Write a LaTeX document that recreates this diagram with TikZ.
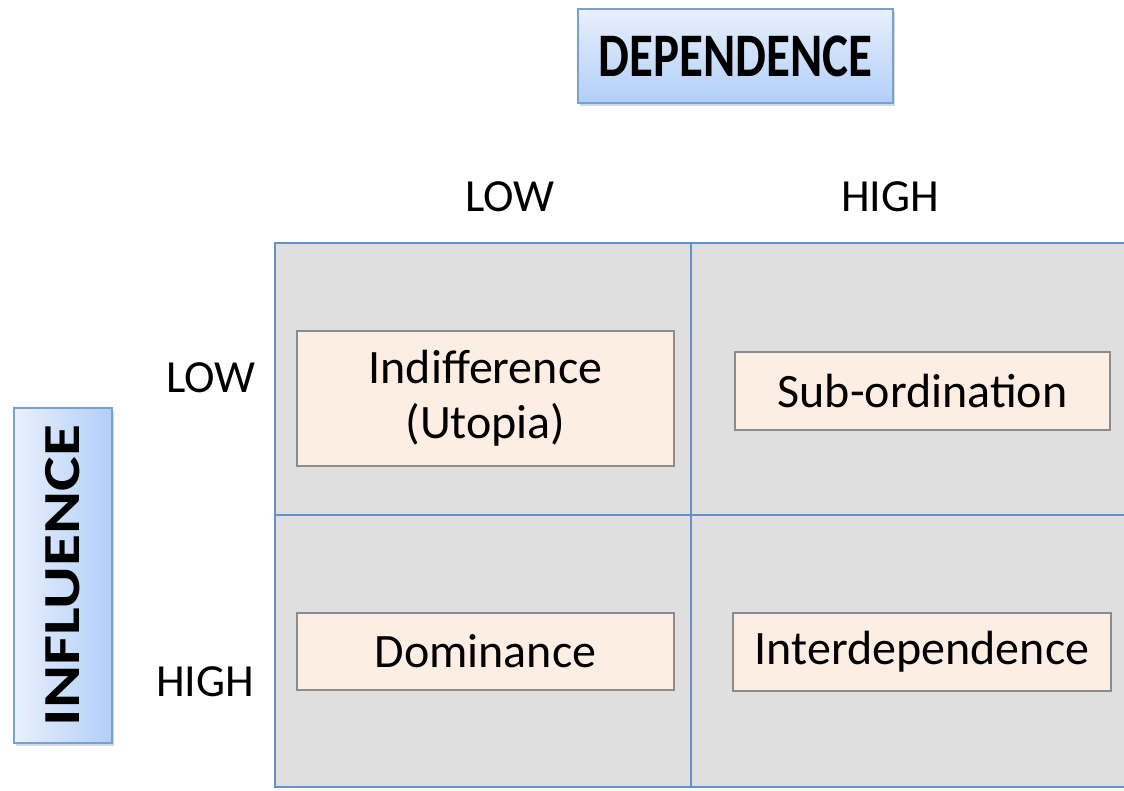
\documentclass[tikz,border=0pt]{standalone}
\usepackage{fontspec}
\setmainfont{Carlito}
\usetikzlibrary{shadows}
\definecolor{cellfill}{RGB}{223,223,223}
\definecolor{cellline}{RGB}{98,146,203}
\definecolor{tagfill}{RGB}{253,238,228}
\definecolor{tagline}{RGB}{140,140,140}
\definecolor{headlight}{RGB}{232,240,253}
\definecolor{headdark}{RGB}{178,206,248}
\definecolor{headline}{RGB}{120,160,212}
\tikzset{
  cell/.style={draw=cellline, fill=cellfill, line width=2pt, inner sep=0pt,
    minimum width=416pt, minimum height=272pt},
  tag/.style={draw=tagline, fill=tagfill, line width=1.2pt, inner sep=0pt,
    align=center, font=\fontsize{48}{55}\selectfont},
  axislabel/.style={font=\fontsize{46}{54}\selectfont, inner sep=0pt},
  header/.style={draw=headline, line width=1.5pt, inner sep=0pt,
    drop shadow={shadow xshift=2pt, shadow yshift=-3pt, opacity=0.3}},
  headtext/.style={font=\bfseries\fontsize{60}{72}\selectfont, inner sep=0pt},
}
\begin{document}
\begin{tikzpicture}[x=1pt, y=-1pt]
  \useasboundingbox (0,0) rectangle (1124,791);
  \fill[white] (0,0) rectangle (1124,791);

  % the four quadrants
  \node[cell] (tl) at (483,379) {};
  \node[cell] (bl) at (483,650.5) {};
  \node[cell, minimum width=450pt] (tr) at (916,379) {};
  \node[cell, minimum width=450pt] (br) at (916,650.5) {};

  % quadrant names
  \node[tag, minimum width=377pt, minimum height=135pt] (indiff) at (485.5,398.5)
    {Indifference\\(Utopia)};
  \node[tag, minimum width=375pt, minimum height=78pt] (subord) at (922.5,391)
    {Sub-ordination};
  \node[tag, minimum width=377pt, minimum height=77pt] (domin) at (485.5,651.5)
    {Dominance};
  \node[tag, minimum width=378pt, minimum height=78pt] (interd) at (922,652)
    {Interdependence};

  % axis values
  \node[axislabel] (colLow) at (510,197) {LOW};
  \node[axislabel] (colHigh) at (890,197) {HIGH};
  \node[axislabel] (rowLow) at (211,378) {LOW};
  \node[axislabel] (rowHigh) at (205,682) {HIGH};

  % axis titles
  \node[header, minimum width=315pt, minimum height=94pt,
        top color=headlight, bottom color=headdark] (dep) at (735.5,56) {};
  \node[headtext, font=\bfseries\fontsize{62}{72}\selectfont, xscale=0.79]
    (depText) at (dep.center) {DEPENDENCE};
  \node[header, minimum width=98pt, minimum height=335pt,
        left color=headlight, right color=headdark] (infl) at (63,575.5) {};
  \node[headtext, font=\bfseries\fontsize{52}{64}\selectfont, rotate=90, xscale=1.26]
    (inflText) at (infl.center) {INFLUENCE};
\end{tikzpicture}
\end{document}
